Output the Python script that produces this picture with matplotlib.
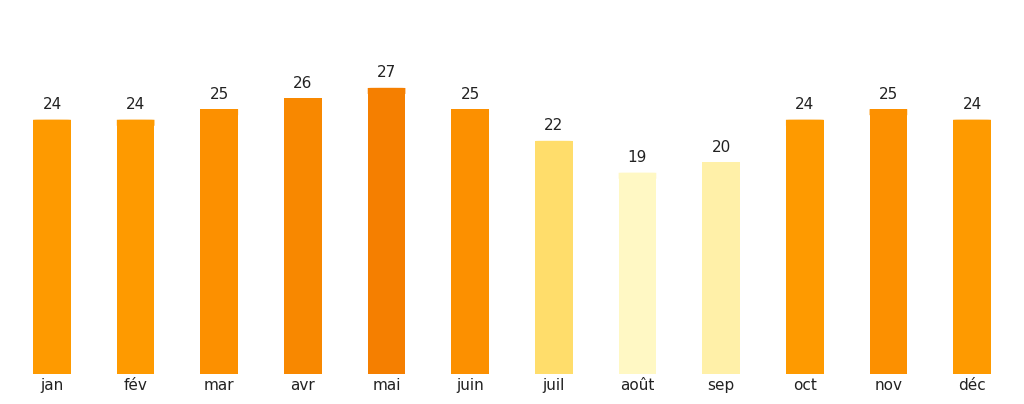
import matplotlib.pyplot as plt
from matplotlib.patches import FancyBboxPatch

months = ['jan', 'fév', 'mar', 'avr', 'mai', 'juin', 'juil', 'août', 'sep', 'oct', 'nov', 'déc']
temps = [24, 24, 25, 26, 27, 25, 22, 19, 20, 24, 25, 24]
colors = ['#fe9a00', '#fe9a00', '#fc9000', '#f88800', '#f57f00', '#fc9000',
          '#ffdd6b', '#fff8c4', '#fff0a8', '#fe9a00', '#fc9000', '#fe9a00']

fig = plt.figure(figsize=(10.24, 4.04), dpi=100)
ax = fig.add_axes([0, 30 / 404, 1, 374 / 404])

x = list(range(len(months)))
w = 0.45
ax.bar(x, temps, width=w, color=colors)
for xi, t, c in zip(x, temps, colors):
    # slightly rounded top
    ax.add_patch(FancyBboxPatch((xi - w / 2, t - 0.6), w, 0.6,
                                boxstyle="round,pad=0,rounding_size=0.15",
                                mutation_aspect=1 / 8, color=c, lw=0))
    ax.text(xi, t + 0.7, str(t), ha='center', va='bottom', fontsize=11, color='#222222')

ax.set_xlim(-52 / 83.64, (1024 - 52) / 83.64)
ax.set_ylim(0, 374 / 10.6)
ax.set_xticks(x)
ax.set_xticklabels(months, fontsize=11, color='#222222')
ax.tick_params(axis='x', length=0, pad=3)
ax.set_yticks([])
for s in ax.spines.values():
    s.set_visible(False)

fig.savefig('out.png', dpi=100)
